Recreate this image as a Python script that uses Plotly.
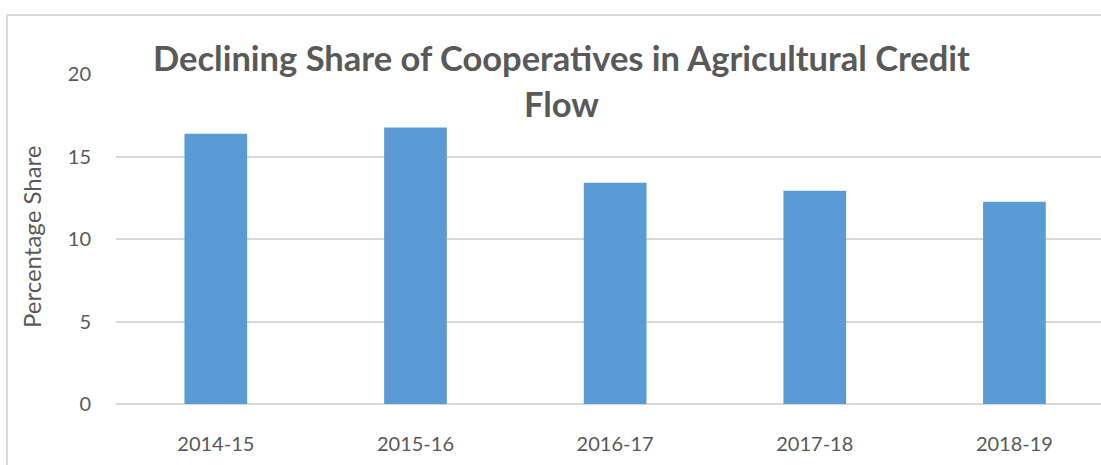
import plotly.graph_objects as go

# Share of cooperatives in agricultural credit flow (%)
years = ["2014-15", "2015-16", "2016-17", "2017-18", "2018-19"]
share = [16.38, 16.76, 13.41, 12.93, 12.26]
y_ticks = [0, 5, 10, 15, 20]

title_line1 = "Declining Share of Cooperatives in Agricultural Credit"
title_line2 = "Flow"
y_title = "Percentage Share"

W, H = 1101, 465
L, R, T, B = 116, 0, 74, 61
PW, PH = W - L - R, H - T - B

TEXT = "#595959"
GRID = "#d9d9d9"
BAR = "#5b9bd5"
FONT = "Lato, 'Open Sans', sans-serif"


def px_x(x):
    return (x - L) / PW


def px_y(y):
    return (H - B - y) / PH


fig = go.Figure(
    go.Bar(
        x=list(range(len(years))),
        y=share,
        width=0.314,
        marker=dict(color=BAR, line=dict(width=0)),
        hoverinfo="x+y",
    )
)

fig.update_layout(
    width=W,
    height=H,
    margin=dict(l=L, r=R, t=T, b=B, pad=0),
    paper_bgcolor="white",
    plot_bgcolor="white",
    showlegend=False,
    font=dict(family=FONT, color=TEXT),
    xaxis=dict(
        range=[-0.5, -0.5 + PW / 199.65],
        tickmode="array",
        tickvals=list(range(len(years))),
        ticktext=years,
        tickfont=dict(size=20, color=TEXT),
        showgrid=False,
        showline=False,
        zeroline=False,
        ticks="",
        ticklabelstandoff=26,
        fixedrange=True,
    ),
    yaxis=dict(
        range=[0, 20],
        tickmode="array",
        tickvals=y_ticks,
        tickfont=dict(size=20, color=TEXT),
        showgrid=True,
        gridcolor=GRID,
        gridwidth=1.5,
        zeroline=True,
        zerolinecolor=GRID,
        zerolinewidth=1.5,
        showline=False,
        ticks="",
        ticklabelstandoff=24,
        fixedrange=True,
    ),
    annotations=[
        dict(
            text=f"<b>{title_line1}</b>",
            xref="paper", yref="paper",
            x=px_x(561), y=px_y(58),
            xanchor="center", yanchor="middle",
            showarrow=False,
            font=dict(size=34.5, color=TEXT, family=FONT),
        ),
        dict(
            text=f"<b>{title_line2}</b>",
            xref="paper", yref="paper",
            x=px_x(561), y=px_y(103),
            xanchor="center", yanchor="middle",
            showarrow=False,
            font=dict(size=34.5, color=TEXT, family=FONT),
        ),
        dict(
            text=y_title,
            xref="paper", yref="paper",
            x=px_x(31), y=px_y(237),
            xanchor="center", yanchor="middle",
            textangle=-90,
            showarrow=False,
            font=dict(size=24, color=TEXT, family=FONT),
        ),
    ],
    shapes=[
        # chart frame (top and left edges)
        dict(type="line", xref="paper", yref="paper",
             x0=px_x(7), x1=px_x(W + 5), y0=px_y(15), y1=px_y(15),
             line=dict(color=GRID, width=2)),
        dict(type="line", xref="paper", yref="paper",
             x0=px_x(7), x1=px_x(7), y0=px_y(15), y1=px_y(H + 5),
             line=dict(color=GRID, width=2)),
    ],
)

fig.write_html("out.html")
